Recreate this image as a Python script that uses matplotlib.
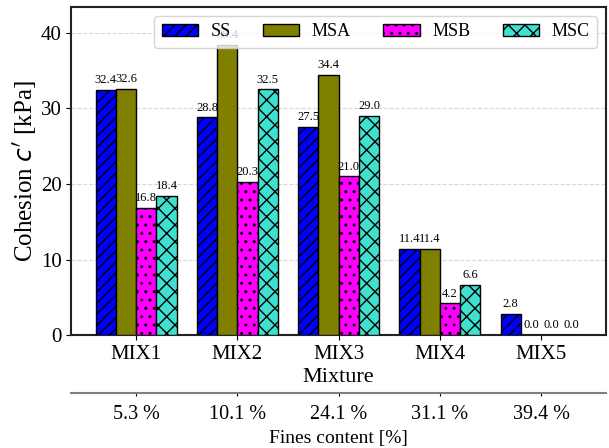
import numpy as np
from matplotlib import pyplot as plt

plt.rcParams['font.family'] = ['Liberation Serif', 'DejaVu Serif']
plt.rcParams['mathtext.fontset'] = 'dejavusans'
plt.rcParams['hatch.linewidth'] = 1.0

mixtures = ['MIX1', 'MIX2', 'MIX3', 'MIX4', 'MIX5']
fines = [5.3, 10.1, 24.1, 31.1, 39.4]

series = ['SS', 'MSA', 'MSB', 'MSC']
ss = [32.4, 28.8, 27.5, 11.4, 2.8]
msa = [32.6, 38.4, 34.4, 11.4, 0.0]
msb = [16.8, 20.3, 21.0, 4.2, 0.0]
msc = [18.4, 32.5, 29.0, 6.6, 0.0]

colors = ['#0000ff', '#808000', '#ff00ff', '#40e0d0']
hatches = ['///', '', '..', 'xx']

fig, ax = plt.subplots(figsize=(6.09, 4.48), dpi=100)
fig.subplots_adjust(left=0.117, right=0.995, top=0.984, bottom=0.252)

x = np.arange(len(mixtures))
w = 0.2
for i, (name, vals) in enumerate(zip(series, [ss, msa, msb, msc])):
    bars = ax.bar(x + (i - 1.5) * w, vals, w, color=colors[i], hatch=hatches[i],
                  edgecolor='black', linewidth=1.0, label=name, zorder=3)
    for b, v in zip(bars, vals):
        ax.text(b.get_x() + b.get_width() / 2, v + 0.5, '%.1f' % v,
                ha='center', va='bottom', fontsize=9, zorder=4)

ax.set_ylim(0, max(msa) * 1.13)
ax.set_xticks(x)
ax.set_xticklabels(mixtures, fontsize=15)
ax.tick_params(axis='y', labelsize=15)
ax.set_xlabel('Mixture', fontsize=16, labelpad=3)
ax.set_ylabel(r"Cohesion $c'$ [kPa]", fontsize=18, labelpad=1)
ax.grid(axis='y', linestyle='--', color='#d8d8d8', linewidth=0.8, zorder=0)
for s in ax.spines.values():
    s.set_linewidth(1.5)
    s.set_color('#222222')

leg = ax.legend(ncol=4, loc='upper right', fontsize=13, framealpha=0.8,
                handlelength=2.0, handletextpad=0.7, columnspacing=1.8)
leg.set_zorder(10)

# secondary axis for fines content
ax2 = ax.twiny()
ax2.set_xlim(ax.get_xlim())
ax2.xaxis.set_ticks_position('bottom')
ax2.xaxis.set_label_position('bottom')
ax2.spines['bottom'].set_position(('outward', 42))
for k in ['top', 'left', 'right']:
    ax2.spines[k].set_visible(False)
ax2.spines['bottom'].set_color('#808080')
ax2.spines['bottom'].set_linewidth(1.5)
ax2.set_xticks(x)
ax2.set_xticklabels(['%.1f %%' % f for f in fines], fontsize=14.5)
ax2.tick_params(axis='x', length=2, pad=6)
ax2.set_xlabel('Fines content [%]', fontsize=14, labelpad=5)

plt.savefig('out.png', dpi=100)
